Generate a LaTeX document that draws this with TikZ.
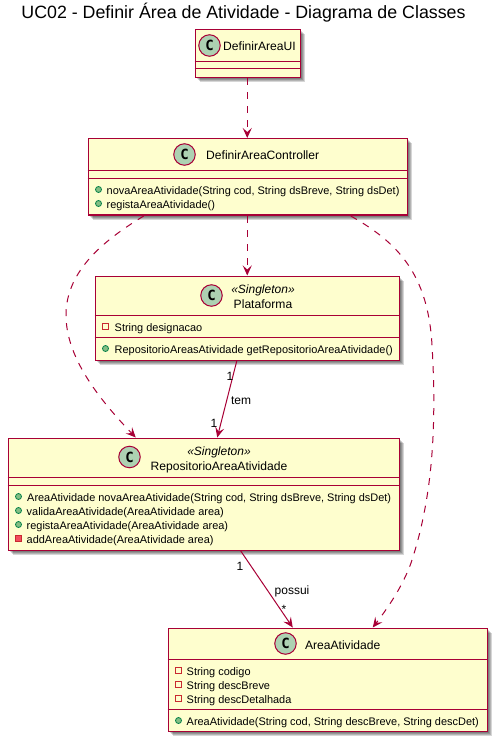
\documentclass[tikz,border=0pt]{standalone}
\usepackage{fontspec}
\setmainfont{Liberation Sans}
\setmonofont{DejaVu Sans Mono}
\usetikzlibrary{arrows.meta}
\definecolor{bord}{HTML}{A80036}
\definecolor{cfill}{HTML}{FEFECE}
\definecolor{spot}{HTML}{ADD1B2}
\definecolor{pubf}{HTML}{84BE84}
\definecolor{pubs}{HTML}{038048}
\definecolor{prvs}{HTML}{C82930}
\definecolor{prvf}{HTML}{F24D5C}
\tikzset{
  x=1pt,y=-1pt,
  shade box/.style={fill=black,opacity=.16,draw=none},
  classbox/.style={draw=bord,fill=cfill,line width=1.5pt,rectangle,inner sep=0pt,anchor=north west},
  sepline/.style={draw=bord,line width=1pt},
  spotc/.style={circle,draw=bord,fill=spot,line width=1pt,minimum size=21.5pt,inner sep=0pt,font=\fontsize{14}{14}\selectfont\bfseries\ttfamily},
  cname/.style={font=\fontsize{12.1}{12}\selectfont,anchor=base,inner sep=0pt,text=black},
  stereo/.style={font=\fontsize{12}{12}\selectfont\itshape,anchor=base,inner sep=0pt,text=black},
  member/.style={font=\fontsize{10.95}{11}\selectfont,anchor=base west,inner sep=0pt,text=black},
  pubdot/.style={circle,draw=pubs,fill=pubf,line width=.8pt,minimum size=6pt,inner sep=0pt},
  prvbox/.style={rectangle,draw=prvs,line width=.9pt,minimum size=6.5pt,inner sep=0pt},
  prvm/.style={prvbox,fill=prvf},
  lbl/.style={font=\fontsize{12}{12}\selectfont,anchor=base,inner sep=0pt,text=black},
  dep/.style={draw=bord,line width=1pt,dash pattern=on 7pt off 7pt,-{Stealth[length=10pt,width=9pt,inset=4pt,color=bord]}},
  assoc/.style={draw=bord,line width=1pt,-{Stealth[length=10pt,width=9pt,inset=4pt,color=bord]}},
}
\newcommand{\shadowrect}[4]{%
  \foreach \d in {2.5,3.5,4.5,5.5}{\fill[shade box] (#1+\d,#2+\d) rectangle (#3+\d,#4+\d);}}
\begin{document}
\begin{tikzpicture}
\useasboundingbox (0,0) rectangle (499,743);
\fill[white] (0,0) rectangle (499,743);
\node[font=\fontsize{17.8}{18}\selectfont,anchor=base,inner sep=0pt] (title) at (243.5,19) {UC02 - Definir Área de Atividade - Diagrama de Classes};

\shadowrect{194.5}{29}{299.5}{77}
\shadowrect{87.5}{138}{406.5}{214.5}
\shadowrect{94.5}{275.5}{398.5}{359.5}
\shadowrect{7.5}{437.5}{398.5}{549.5}
\shadowrect{167.5}{627.5}{486.5}{730.5}

\node[classbox,minimum width=105pt,minimum height=48pt] (ui) at (194.5,29) {};
\node[classbox,minimum width=319pt,minimum height=76.5pt] (ctrl) at (87.5,138) {};
\node[classbox,minimum width=304pt,minimum height=84pt] (plat) at (94.5,275.5) {};
\node[classbox,minimum width=391pt,minimum height=112pt] (repo) at (7.5,437.5) {};
\node[classbox,minimum width=319pt,minimum height=103pt] (area) at (167.5,627.5) {};

% separators
\draw[sepline] (194.5,61.5) -- (299.5,61.5);
\draw[sepline] (194.5,69) -- (299.5,69);
\draw[sepline] (87.5,170.5) -- (406.5,170.5);
\draw[sepline] (87.5,178.5) -- (406.5,178.5);
\draw[sepline] (94.5,315.5) -- (398.5,315.5);
\draw[sepline] (94.5,337) -- (398.5,337);
\draw[sepline] (7.5,477) -- (398.5,477);
\draw[sepline] (7.5,485) -- (398.5,485);
\draw[sepline] (167.5,659.5) -- (486.5,659.5);
\draw[sepline] (167.5,709.5) -- (486.5,709.5);

% spots and names
\node[spotc] (s1) at (209.5,45.5) {C};
\node[cname] (n1) at (259.5,51) {DefinirAreaUI};
\node[spotc] (s2) at (184.5,154.5) {C};
\node[cname] (n2) at (262.7,160) {DefinirAreaController};
\node[spotc] (s3) at (211.5,295.5) {C};
\node[stereo] (t3) at (263,293) {«Singleton»};
\node[cname] (n3) at (263,308) {Plataforma};
\node[spotc] (s4) at (129.5,457) {C};
\node[stereo] (t4) at (219,455) {«Singleton»};
\node[cname] (n4) at (219,470) {RepositorioAreaAtividade};
\node[spotc] (s5) at (285.5,643.5) {C};
\node[cname] (n5) at (342.7,649) {AreaAtividade};

% members
\node[pubdot] (d21) at (98.5,189.5) {};
\node[member] (m21) at (106.5,194.5) {novaAreaAtividade(String cod, String dsBreve, String dsDet)};
\node[pubdot] (d22) at (98.5,203.5) {};
\node[member] (m22) at (106.5,208.5) {registaAreaAtividade()};

\node[prvbox] (d31) at (105.5,326.5) {};
\node[member] (m31) at (114.5,331.5) {String designacao};
\node[pubdot] (d32) at (105.5,348.5) {};
\node[member] (m32) at (114.5,353.5) {RepositorioAreasAtividade getRepositorioAreaAtividade()};

\node[pubdot] (d41) at (18.5,496.5) {};
\node[member] (m41) at (27,501.5) {AreaAtividade novaAreaAtividade(String cod, String dsBreve, String dsDet)};
\node[pubdot] (d42) at (18.5,510.5) {};
\node[member] (m42) at (26.5,515.5) {validaAreaAtividade(AreaAtividade area)};
\node[pubdot] (d43) at (18.5,524.5) {};
\node[member] (m43) at (26.5,529.5) {registaAreaAtividade(AreaAtividade area)};
\node[prvm] (d44) at (18.5,538.5) {};
\node[member] (m44) at (26.5,543.5) {addAreaAtividade(AreaAtividade area)};

\node[prvbox] (d51) at (178.5,670.5) {};
\node[member] (m51) at (186.5,675.5) {String codigo};
\node[prvbox] (d52) at (178.5,684.5) {};
\node[member] (m52) at (186.5,689.5) {String descBreve};
\node[prvbox] (d53) at (178.5,698.5) {};
\node[member] (m53) at (186.5,703.5) {String descDetalhada};
\node[pubdot] (d54) at (178.5,720.5) {};
\node[member] (m54) at (186.5,725.5) {AreaAtividade(String cod, String descBreve, String descDet)};

% connectors
\draw[dep] ([xshift=-0.5pt]ui.south) -- ([xshift=-0.5pt]ctrl.north);
\draw[dep] ([xshift=-0.5pt]ctrl.south) -- ([xshift=0pt]plat.north);
\draw[dep] ([xshift=-104pt]ctrl.south) .. controls +(-38,23) and (66,270) .. (66,315)
  .. controls (66,355) and (95,395) .. ([xshift=-68pt]repo.north);
\draw[dep] ([xshift=103pt]ctrl.south) .. controls +(48,27) and (428,275) .. (432,345)
  .. controls (437,430) and (432,500) .. (411,563)
  .. controls (403,585) and (390,605) .. ([xshift=45pt]area.north);
\draw[assoc] ([xshift=-10.5pt]plat.south) -- ([xshift=13.5pt]repo.north);
\draw[assoc] ([xshift=37pt]repo.south) -- ([xshift=-35pt]area.north);

% labels
\node[lbl] (l1) at (230,380) {1};
\node[lbl] (l2) at (241,404) {tem};
\node[lbl] (l3) at (214,427) {1};
\node[lbl] (l4) at (240,570) {1};
\node[lbl] (l5) at (292,594) {possui};
\node[lbl] (l6) at (284,613) {*};
\end{tikzpicture}
\end{document}
